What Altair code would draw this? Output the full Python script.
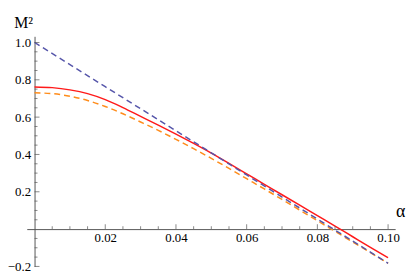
import altair as alt
import pandas as pd

# ---- data ----
alpha = [0.000, 0.005, 0.010, 0.015, 0.020, 0.025, 0.030, 0.035, 0.040, 0.045,
         0.050, 0.055, 0.060, 0.065, 0.070, 0.075, 0.080, 0.085, 0.090, 0.095, 0.100]
red = [0.762, 0.758, 0.746, 0.726, 0.694, 0.651, 0.604, 0.557, 0.509, 0.459,
       0.407, 0.352, 0.296, 0.240, 0.184, 0.128, 0.072, 0.016, -0.041, -0.098, -0.153]
orange = [0.730, 0.726, 0.712, 0.689, 0.657, 0.618, 0.574, 0.529, 0.481, 0.431,
          0.379, 0.325, 0.270, 0.215, 0.159, 0.102, 0.045, -0.012, -0.069, -0.126, -0.183]
blue_alpha = [0.00, 0.02, 0.04, 0.06, 0.08, 0.10]
blue = [1.000, 0.763, 0.527, 0.290, 0.054, -0.183]

x_major = [0.02, 0.04, 0.06, 0.08, 0.10]
x_minor = [0.005, 0.010, 0.015, 0.025, 0.030, 0.035, 0.045, 0.050, 0.055,
           0.065, 0.070, 0.075, 0.085, 0.090, 0.095]
y_major = [-0.2, 0.2, 0.4, 0.6, 0.8, 1.0]
y_minor = [-0.15, -0.10, -0.05, 0.05, 0.10, 0.15, 0.25, 0.30, 0.35, 0.45, 0.50,
           0.55, 0.65, 0.70, 0.75, 0.85, 0.90, 0.95]

AX = "#555555"
FONT = "Liberation Serif"

xs = alt.Scale(domain=[-0.0022, 0.102], nice=False, zero=False)
ys = alt.Scale(domain=[-0.2, 1.033], nice=False, zero=False)

W, H = 373, 233
x_off = -(0.0022 / 0.1042) * W
y_off = -(0.2 / 1.233) * H

xaxis = alt.Axis(values=x_major, format=".2f", ticks=False, tickSize=0, grid=False,
                 domain=True, domainColor=AX, domainWidth=1, offset=y_off,
                 labelFont=FONT, labelFontSize=13, labelColor="black", labelPadding=3,
                 title="α", titleFont=FONT, titleFontSize=18, titleFontWeight="normal",
                 titleColor="black", titleX=378, titleY=-18, titleAlign="center",
                 titleBaseline="middle", titleAngle=0)
yaxis = alt.Axis(values=y_major, format=".1f", ticks=False, tickSize=0, grid=False,
                 domain=True, domainColor=AX, domainWidth=1, offset=x_off,
                 labelFont=FONT, labelFontSize=13, labelColor="black", labelPadding=4,
                 title="M²", titleFont=FONT, titleFontSize=16, titleFontWeight="normal",
                 titleColor="black", titleX=-21, titleY=-9, titleAlign="left",
                 titleBaseline="alphabetic", titleAngle=0)

curves = pd.DataFrame({"a": alpha, "red": red, "orange": orange})
blue_df = pd.DataFrame({"a": blue_alpha, "m": blue})

red_line = alt.Chart(curves).mark_line(color="#ff1a1a", strokeWidth=1.5, interpolate="monotone").encode(
    x=alt.X("a:Q", scale=xs, axis=xaxis),
    y=alt.Y("red:Q", scale=ys, axis=yaxis),
)
orange_line = alt.Chart(curves).mark_line(color="#ff8c1a", strokeWidth=1.5, strokeDash=[6, 4],
                                          interpolate="monotone").encode(
    x=alt.X("a:Q", scale=xs, axis=xaxis),
    y=alt.Y("orange:Q", scale=ys, axis=yaxis),
)
blue_line = alt.Chart(blue_df).mark_line(color="#5656aa", strokeWidth=1.5, strokeDash=[6, 4]).encode(
    x=alt.X("a:Q", scale=xs, axis=xaxis),
    y=alt.Y("m:Q", scale=ys, axis=yaxis),
)

xmaj = alt.Chart(pd.DataFrame({"v": x_major})).mark_tick(
    orient="vertical", size=5, thickness=1, yOffset=-2.5, color=AX).encode(
    x=alt.X("v:Q", scale=xs, axis=xaxis),
    y=alt.YDatum(0, type="quantitative", scale=ys, axis=yaxis),
)
xmin = alt.Chart(pd.DataFrame({"v": x_minor})).mark_tick(
    orient="vertical", size=3, thickness=1, yOffset=-1.5, color=AX).encode(
    x=alt.X("v:Q", scale=xs, axis=xaxis),
    y=alt.YDatum(0, type="quantitative", scale=ys, axis=yaxis),
)
ymaj = alt.Chart(pd.DataFrame({"v": y_major})).mark_tick(
    orient="horizontal", size=5, thickness=1, xOffset=2.5, color=AX).encode(
    y=alt.Y("v:Q", scale=ys, axis=yaxis),
    x=alt.XDatum(0, type="quantitative", scale=xs, axis=xaxis),
)
ymin = alt.Chart(pd.DataFrame({"v": y_minor})).mark_tick(
    orient="horizontal", size=3, thickness=1, xOffset=1.5, color=AX).encode(
    y=alt.Y("v:Q", scale=ys, axis=yaxis),
    x=alt.XDatum(0, type="quantitative", scale=xs, axis=xaxis),
)

chart = alt.layer(red_line, orange_line, blue_line, xmaj, xmin, ymaj, ymin).properties(
    width=W, height=H,
    autosize=alt.AutoSizeParams(type="none"),
    padding={"left": 19, "top": 27, "right": 12, "bottom": 6},
).configure_view(stroke=None)

chart.save("out.html", embed_options={"renderer": "svg", "actions": False})
